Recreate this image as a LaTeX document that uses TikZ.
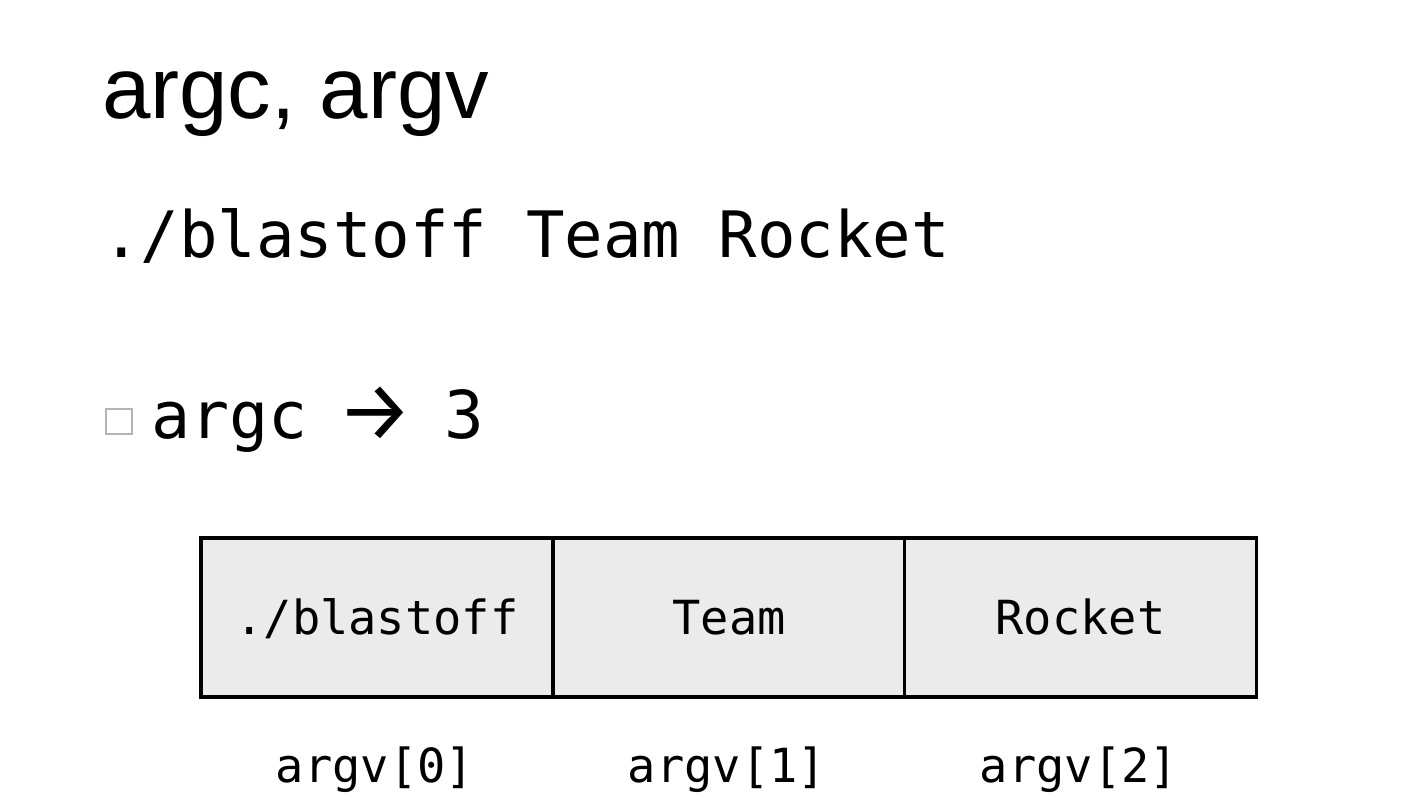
\documentclass[tikz,border=0pt]{standalone}
\usepackage{fontspec}
\setmainfont{Liberation Sans}
\newfontfamily\mono{DejaVu Sans Mono}
\newfontfamily\arrowfont{Fira Sans}
\definecolor{cellfill}{HTML}{EBEBEB}
\definecolor{bulletgray}{HTML}{B4B4B4}
\begin{document}
\begin{tikzpicture}[x=1pt,y=-1pt,
  titletext/.style={anchor=base west,inner sep=0pt,font=\fontsize{87}{95}\selectfont},
  cmdtext/.style={anchor=base west,inner sep=0pt,font=\mono\fontsize{64}{70}\selectfont},
  cell/.style={draw=black,line width=3.5pt,fill=cellfill,minimum width=352pt,minimum height=159pt,
    inner sep=0pt,text height=34pt,text depth=0pt,font=\mono\fontsize{47}{52}\selectfont},
  idx/.style={anchor=base,inner sep=0pt,font=\mono\fontsize{47}{52}\selectfont},
  bullet/.style={draw=bulletgray,line width=2pt,fill=white,minimum width=26pt,minimum height=25pt,inner sep=0pt}]
  \useasboundingbox[fill=white] (0,0) rectangle (1418,800);

  % heading
  \node[titletext] (title) at (102,118) {argc, argv};

  % command line
  \node[cmdtext] (cmd) at (102,257) {./blastoff Team Rocket};

  % argc line with square bullet
  \node[bullet] (blt) at (119,421.5) {};
  \node[cmdtext,font=\mono\fontsize{65}{70}\selectfont] (argc) at (151,438) {argc};
  \node[inner sep=0pt,font=\arrowfont\fontsize{84}{90}\selectfont] (arr) at (375,413.5) {→};
  \node[anchor=base,inner sep=0pt,font=\mono\fontsize{66}{70}\selectfont] (three) at (464,438) {3};

  % argv array cells
  \node[cell] (c0) at (377,617.5) {./blastoff};
  \node[cell] (c1) at (729,617.5) {Team};
  \node[cell] (c2) at (1080.5,617.5) {Rocket};

  % index labels
  \node[idx] (i0) at (375,782) {argv[0]};
  \node[idx] (i1) at (727,782) {argv[1]};
  \node[idx] (i2) at (1079,782) {argv[2]};
\end{tikzpicture}
\end{document}
